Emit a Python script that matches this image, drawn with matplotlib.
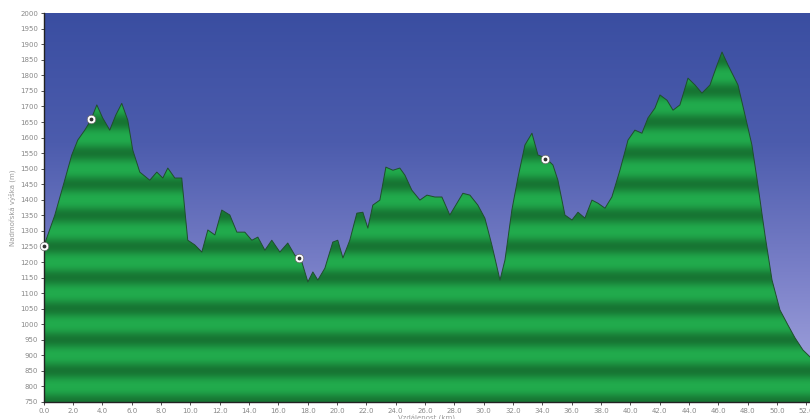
import numpy as np
import matplotlib.pyplot as plt
from matplotlib.colors import LinearSegmentedColormap

# elevation profile (distance in km, elevation in m)
dist_km = [0.0, 0.75, 1.43, 1.91, 2.32, 2.80, 3.21, 3.62, 4.02, 4.50, 4.91, 5.32, 5.73,
           6.07, 6.55, 7.23, 7.71, 8.12, 8.46, 8.94, 9.41, 9.82, 10.30, 10.78, 11.19,
           11.67, 12.14, 12.69, 13.17, 13.71, 14.19, 14.60, 15.08, 15.55, 16.10, 16.64,
           17.12, 17.60, 18.01, 18.35, 18.69, 19.17, 19.71, 20.05, 20.40, 20.87, 21.35,
           21.76, 22.10, 22.44, 22.92, 23.33, 23.81, 24.28, 24.63, 25.10, 25.65, 26.13,
           26.67, 27.15, 27.69, 28.10, 28.58, 29.06, 29.60, 30.08, 30.56, 31.11, 31.45,
           31.92, 32.33, 32.81, 33.29, 33.70, 34.24, 34.72, 35.06, 35.54, 36.02, 36.43,
           36.90, 37.38, 37.79, 38.27, 38.74, 39.29, 39.84, 40.31, 40.79, 41.20, 41.68,
           42.02, 42.50, 42.91, 43.38, 43.93, 44.41, 44.88, 45.43, 45.91, 46.25, 46.66,
           47.00, 47.34, 47.82, 48.29, 48.70, 49.18, 49.66, 50.20, 50.75, 51.23, 51.77,
           52.25]
elev_m = [1250, 1350, 1463, 1544, 1592, 1624, 1656, 1705, 1663, 1624, 1672, 1710, 1656,
          1560, 1489, 1463, 1489, 1470, 1502, 1470, 1470, 1270, 1255, 1232, 1303,
          1287, 1367, 1351, 1296, 1296, 1270, 1280, 1238, 1270, 1232, 1261,
          1222, 1200, 1136, 1168, 1142, 1180, 1264, 1270, 1213, 1270, 1357,
          1360, 1309, 1383, 1399, 1505, 1495, 1502, 1479, 1431, 1399, 1415,
          1409, 1409, 1351, 1383, 1421, 1415, 1383, 1341, 1254, 1142, 1206,
          1367, 1470, 1576, 1614, 1544, 1534, 1512, 1463, 1351, 1335, 1360,
          1341, 1399, 1389, 1373, 1409, 1495, 1592, 1624, 1614, 1663, 1695,
          1737, 1720, 1688, 1705, 1791, 1769, 1743, 1769, 1833, 1875, 1833,
          1801, 1769, 1672, 1576, 1447, 1287, 1142, 1046, 997, 956, 917,
          895]

# waypoints
wp_km = [0.0, 3.2, 17.4, 34.2]
wp_m = [1250, 1660, 1213, 1531]

x_ticks = np.arange(0, 53, 2.0)
y_ticks = np.arange(750, 2001, 50)

fig = plt.figure(figsize=(8.1, 4.19), dpi=100)
ax = fig.add_axes([0.054, 0.0406, 0.946, 0.928])
x0, x1, y0, y1 = 0, 52.25, 750, 2000
ax.set_xlim(x0, x1)
ax.set_ylim(y0, y1)

# background gradient (dark blue at top to lavender at bottom)
sky = LinearSegmentedColormap.from_list('sky', ['#a9aae1', '#7a80c8', '#4c5cad', '#3a4ea1'])
grad = np.linspace(0, 1, 256).reshape(-1, 1)
ax.imshow(grad, cmap=sky, origin='lower', aspect='auto',
          extent=[x0, x1, y0, y1], zorder=0)

# striped green fill, clipped to the profile
levels = np.linspace(y0, y1, 1200)
phase = ((levels - 750) % 100) / 100.0
t = (0.5 * (1 + np.cos(2 * np.pi * phase))) ** 1.3
light = np.array([0.13, 0.67, 0.30])
dark = np.array([0.09, 0.46, 0.20])
rgb = light[None, :] * (1 - t[:, None]) + dark[None, :] * t[:, None]
stripes = ax.imshow(rgb[:, None, :], origin='lower', aspect='auto',
                    extent=[x0, x1, y0, y1], zorder=1)
poly = ax.fill_between(dist_km, elev_m, y0, color='none', zorder=1)
stripes.set_clip_path(poly.get_paths()[0], transform=ax.transData)
ax.plot(dist_km, elev_m, color='#1f4f2c', lw=0.7, zorder=2)

ax.scatter(wp_km, wp_m, s=38, facecolor='white', edgecolor='#666666',
           linewidth=0.5, zorder=4, clip_on=False)
ax.scatter(wp_km, wp_m, s=3, color='#333333', zorder=5, clip_on=False)

ax.set_xticks(x_ticks)
ax.set_xticklabels(['%.1f' % v for v in x_ticks])
ax.set_yticks(y_ticks)
ax.tick_params(labelsize=5, colors='#333333', labelcolor='#888888',
               length=2.5, width=0.6, pad=1.5)
for s in ['top', 'right']:
    ax.spines[s].set_visible(False)
for s in ['left', 'bottom']:
    ax.spines[s].set_color('#222222')
    ax.spines[s].set_linewidth(1.0)

ax.set_xlabel('Vzdálenost (km)', fontsize=5, color='#999999', labelpad=1)
ax.set_ylabel('Nadmořská výška (m)', fontsize=5, color='#999999', labelpad=3)

fig.savefig('out.png', dpi=100)
